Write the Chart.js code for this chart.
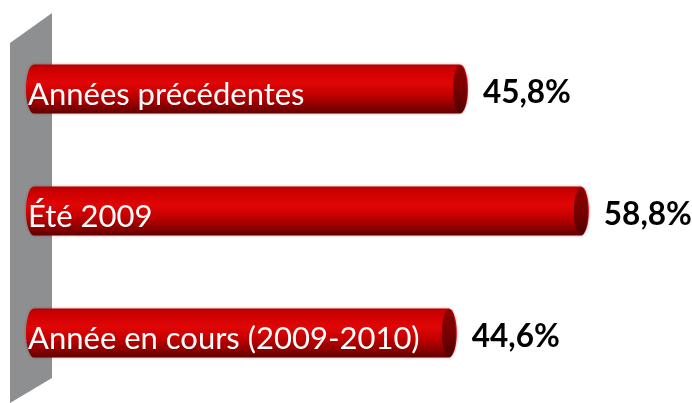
<!DOCTYPE html>
<html>
<head>
<meta charset="utf-8">
<script src="https://cdn.jsdelivr.net/npm/chart.js@4/dist/chart.umd.min.js"></script>
<style>
  html, body { margin: 0; padding: 0; background: #fff; }
  #wrap { width: 692px; height: 403px; position: relative; }
</style>
</head>
<body>
<div id="wrap"><canvas id="chart"></canvas></div>
<script>
// chart data
const categories = ['Années précédentes', 'Été 2009', 'Année en cours (2009-2010)'];
const values = [45.8, 58.8, 44.6];
const valueLabels = ['45,8%', '58,8%', '44,6%'];

// grey 3d wall behind the bars
const wallPlugin = {
    id: 'wall',
    beforeDatasetsDraw(chart) {
        const ctx = chart.ctx;
        ctx.save();
        ctx.fillStyle = '#8e8f91';
        ctx.beginPath();
        ctx.moveTo(10, 43);
        ctx.lineTo(52, 13);
        ctx.lineTo(52, 378);
        ctx.lineTo(10, 403);
        ctx.closePath();
        ctx.fill();
        ctx.restore();
    }
};

// draw each bar as a red cylinder using the element geometry
const cylinderPlugin = {
    id: 'cylinder',
    beforeDatasetDraw(chart, args) {
        const ctx = chart.ctx;
        const meta = args.meta;
        meta.data.forEach(function (bar, i) {
            const x0 = bar.base, x1 = bar.x, yc = bar.y;
            const ry = bar.height / 2, rx = 8;
            const top = yc - ry, bottom = yc + ry;

            let g = ctx.createLinearGradient(0, top, 0, bottom);
            g.addColorStop(0, '#b80000');
            g.addColorStop(0.12, '#cf0000');
            g.addColorStop(0.38, '#e00606');
            g.addColorStop(0.6, '#c60000');
            g.addColorStop(0.85, '#8c0000');
            g.addColorStop(1, '#5e0000');

            ctx.save();
            ctx.shadowColor = 'rgba(120,0,0,0.35)';
            ctx.shadowBlur = 3;
            ctx.fillStyle = g;
            ctx.beginPath();
            ctx.moveTo(x0, top);
            ctx.lineTo(x1, top);
            ctx.ellipse(x1, yc, rx, ry, 0, -Math.PI / 2, Math.PI / 2);
            ctx.lineTo(x0, bottom);
            ctx.ellipse(x0, yc, rx, ry, 0, Math.PI / 2, Math.PI * 1.5);
            ctx.closePath();
            ctx.fill();
            ctx.restore();

            // end face
            let e = ctx.createLinearGradient(0, top, 0, bottom);
            e.addColorStop(0, '#8a0000');
            e.addColorStop(0.5, '#7a0000');
            e.addColorStop(1, '#4e0000');
            ctx.save();
            ctx.fillStyle = e;
            ctx.beginPath();
            ctx.ellipse(x1, yc, rx - 1, ry - 1, 0, 0, Math.PI * 2);
            ctx.fill();
            ctx.restore();

            // category text inside the bar
            ctx.save();
            ctx.fillStyle = '#ffffff';
            ctx.font = '31px Lato';
            ctx.textBaseline = 'alphabetic';
            ctx.fillText(chart.data.labels[i], 28, yc + 16);

            // value to the right
            ctx.fillStyle = '#000000';
            ctx.font = 'bold 31.5px Lato';
            ctx.textBaseline = 'middle';
            ctx.fillText(valueLabels[i], x1 + 23, yc + 4);
            ctx.restore();
        });
        return false;
    }
};

let ctx = document.getElementById('chart').getContext('2d');

let myChart = new Chart(ctx, {
    type: 'bar',
    data: {
        labels: categories,
        datasets: [{
            data: values,
            backgroundColor: '#cc0000',
            barThickness: 49
        }]
    },
    options: {
        indexAxis: 'y',
        responsive: true,
        maintainAspectRatio: false,
        animation: false,
        layout: {
            padding: { left: 34, right: 7, top: 28, bottom: 9 }
        },
        plugins: {
            legend: { display: false },
            tooltip: { enabled: false }
        },
        scales: {
            x: { display: false, min: 0, max: 70 },
            y: { display: false }
        }
    },
    plugins: [wallPlugin, cylinderPlugin]
});
</script>
</body>
</html>
